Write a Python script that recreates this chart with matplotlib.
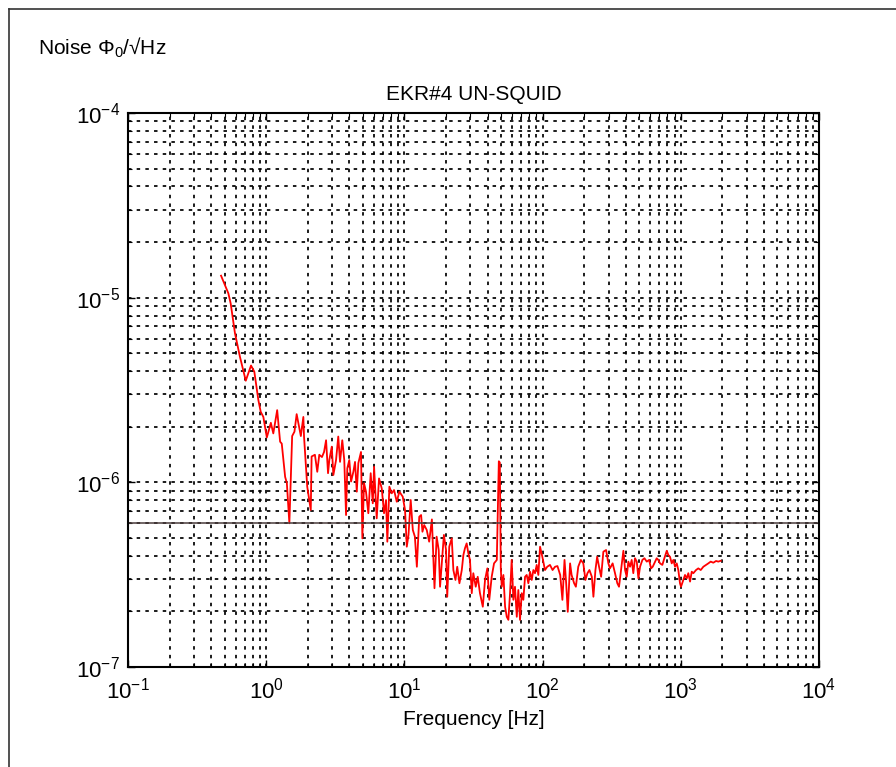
import numpy as np
import matplotlib
matplotlib.use('Agg')
import matplotlib.pyplot as plt
from matplotlib.lines import Line2D

plt.rcParams['font.family'] = ['Liberation Sans', 'DejaVu Sans']
plt.rcParams['mathtext.fontset'] = 'custom'
plt.rcParams['mathtext.rm'] = 'Liberation Sans'
plt.rcParams['mathtext.it'] = 'Liberation Sans:italic'
plt.rcParams['mathtext.bf'] = 'Liberation Sans:bold'
plt.rcParams['axes.unicode_minus'] = False

# noise spectrum (Hz, Phi0/sqrt(Hz))
freq = [0.471, 0.532, 0.553, 0.594, 0.645, 0.711, 0.776, 0.820, 0.877, 0.912,
        0.953, 1.01, 1.08, 1.125, 1.20, 1.26, 1.295, 1.37, 1.41, 1.47,
        1.54, 1.60, 1.66, 1.78, 1.856, 1.877, 1.98, 2.10, 2.13, 2.25,
        2.34, 2.42, 2.53, 2.62, 2.71, 2.80, 2.86, 2.98, 3.06, 3.20,
        3.32, 3.42, 3.55, 3.67, 3.78, 3.86, 3.99, 4.11, 4.27, 4.39,
        4.52, 4.64, 4.85, 4.96, 5.10, 5.27, 5.48, 5.70, 5.90, 6.03,
        6.30, 6.55, 6.85, 7.12, 7.36, 7.52, 7.78, 8.09, 8.41, 8.80,
        9.19, 9.72, 10.1, 10.4, 10.7, 11.1, 11.5, 11.9, 12.3, 12.8,
        13.2, 13.5, 13.9, 14.5, 15.1, 15.8, 16.5, 17.1, 17.7, 18.1,
        18.8, 19.3, 20.0, 20.4, 21.1, 22.0, 22.6, 23.4, 24.1, 25.0,
        26.0, 26.7, 27.4, 28.2, 29.0, 29.8, 30.7, 31.5, 32.8, 33.9,
        35.2, 36.9, 38.3, 39.8, 41.1, 42.8, 44.5, 46.6, 48.2, 49.0,
        49.8, 50.6, 52.0, 53.5, 55.0, 56.5, 58.1, 59.7, 61.4, 63.1,
        65.0, 66.7, 68.6, 70.6, 72.5, 74.6, 76.7, 78.8, 81.1, 83.4,
        85.7, 88.1, 90.6, 93.1, 95.8, 99.5, 104, 108, 113, 118,
        123, 128, 134, 139, 144, 148, 152, 158, 162, 169,
        174, 181, 189, 197, 204, 211, 218, 227, 233, 241,
        248, 256, 265, 275, 288, 299, 307, 321, 334, 347,
        357, 369, 384, 395, 406, 417, 429, 441, 453, 466,
        480, 493, 507, 527, 545, 567, 589, 609, 626, 651,
        669, 687, 707, 735, 760, 791, 812, 835, 859, 883,
        908, 934, 959, 986, 1003, 1042, 1072, 1104, 1133, 1166,
        1199, 1232, 1288, 1338, 1393, 1455, 1522, 1581, 1645, 1718,
        1798, 1867, 1945]

noise = [1.315e-5, 1.055e-5, 9.3e-6, 6.41e-6, 4.79e-6, 3.55e-6, 4.29e-6, 3.97e-6, 2.79e-6, 2.41e-6,
         2.26e-6, 1.75e-6, 2.10e-6, 1.84e-6, 2.46e-6, 1.66e-6, 1.62e-6, 1.07e-6, 9.9e-7, 6.0e-7,
         1.78e-6, 1.88e-6, 2.34e-6, 1.78e-6, 2.26e-6, 1.77e-6, 9.47e-7, 7.08e-7, 1.38e-6, 1.41e-6,
         1.14e-6, 1.41e-6, 1.37e-6, 1.46e-6, 1.69e-6, 1.12e-6, 1.32e-6, 1.56e-6, 1.095e-6, 1.32e-6,
         1.77e-6, 1.29e-6, 1.69e-6, 1.32e-6, 6.65e-7, 1.19e-6, 1.32e-6, 1.01e-6, 1.14e-6, 1.29e-6,
         8.9e-7, 1.27e-6, 1.46e-6, 4.97e-7, 9.9e-7, 8.9e-7, 6.8e-7, 1.12e-6, 7.7e-7, 1.215e-6,
         6.38e-7, 1.05e-6, 9.28e-7, 6.8e-7, 8.02e-7, 4.77e-7, 9.47e-7, 8.72e-7, 9.08e-7, 7.85e-7,
         8.9e-7, 8.36e-7, 7.08e-7, 4.48e-7, 5.19e-7, 8.02e-7, 5.52e-7, 5.08e-7, 3.49e-7, 6.51e-7,
         6.65e-7, 5.40e-7, 5.87e-7, 5.52e-7, 4.77e-7, 6.3e-7, 2.67e-7, 5.08e-7, 4.30e-7, 2.72e-7,
         3.95e-7, 5.19e-7, 4.30e-7, 2.40e-7, 4.48e-7, 4.97e-7, 3.35e-7, 2.96e-7, 3.49e-7, 2.84e-7,
         3.35e-7, 4.04e-7, 4.39e-7, 4.67e-7, 4.13e-7, 3.80e-7, 2.51e-7, 3.22e-7, 2.72e-7, 3.08e-7,
         2.51e-7, 2.12e-7, 2.96e-7, 3.42e-7, 2.31e-7, 3.08e-7, 3.64e-7, 3.80e-7, 1.3e-6, 1.28e-6,
         3.4e-7, 2.72e-7, 3.15e-7, 2.12e-7, 1.87e-7, 1.80e-7, 2.51e-7, 3.80e-7, 2.31e-7, 2.72e-7,
         1.87e-7, 2.61e-7, 1.80e-7, 2.51e-7, 2.31e-7, 3.08e-7, 3.15e-7, 2.84e-7, 3.28e-7, 2.96e-7,
         3.35e-7, 3.22e-7, 3.57e-7, 3.15e-7, 4.48e-7, 3.95e-7, 3.35e-7, 3.49e-7, 3.57e-7, 3.35e-7,
         3.49e-7, 3.52e-7, 3.15e-7, 2.31e-7, 3.80e-7, 2.84e-7, 1.99e-7, 3.64e-7, 3.15e-7, 2.84e-7,
         2.72e-7, 3.49e-7, 3.80e-7, 3.64e-7, 2.96e-7, 3.22e-7, 3.35e-7, 3.08e-7, 2.40e-7, 3.35e-7,
         3.95e-7, 3.49e-7, 3.08e-7, 4.21e-7, 4.30e-7, 3.64e-7, 3.42e-7, 3.64e-7, 3.22e-7, 2.84e-7,
         2.72e-7, 3.35e-7, 4.26e-7, 3.35e-7, 3.08e-7, 3.72e-7, 3.49e-7, 3.80e-7, 3.22e-7, 3.88e-7,
         3.72e-7, 3.02e-7, 3.49e-7, 3.80e-7, 3.88e-7, 3.72e-7, 3.80e-7, 3.42e-7, 3.49e-7, 3.72e-7,
         3.88e-7, 3.80e-7, 3.64e-7, 3.57e-7, 3.88e-7, 4.26e-7, 4.04e-7, 3.95e-7, 3.64e-7, 3.80e-7,
         3.49e-7, 3.64e-7, 3.35e-7, 2.84e-7, 2.72e-7, 2.96e-7, 3.15e-7, 3.02e-7, 3.22e-7, 2.90e-7,
         3.28e-7, 3.22e-7, 3.35e-7, 3.42e-7, 3.35e-7, 3.49e-7, 3.57e-7, 3.64e-7, 3.72e-7, 3.67e-7,
         3.75e-7, 3.72e-7, 3.76e-7]

ref_level = 6.0e-7  # horizontal reference line

title = 'EKR#4 UN-SQUID'
xlabel = 'Frequency [Hz]'
ylabel = r'Noise $\Phi_{0}$/√Hz'

fig = plt.figure(figsize=(8.96, 7.67), dpi=100)
ax = fig.add_axes([0.1429, 0.1304, 0.7712, 0.7223])

ax.loglog(freq, noise, color='red', lw=1.3)
ax.axhline(ref_level, color='#4a3c3c', lw=1.1)

ax.set_xlim(1e-1, 1e4)
ax.set_ylim(1e-7, 1e-4)

ax.grid(True, which='both', color='black', linestyle=(0, (2, 3)), lw=1.25)
ax.tick_params(which='both', direction='in', top=True, right=True, labelsize=16)
ax.tick_params(axis='x', which='major', pad=8)
ax.tick_params(axis='y', which='major', pad=6)
ax.tick_params(which='major', length=5, width=1)
ax.tick_params(which='minor', length=3, width=0.8)
for s in ax.spines.values():
    s.set_linewidth(1.5)

ax.set_title(title, fontsize=15, pad=9)
ax.set_xlabel(xlabel, fontsize=15, labelpad=4)
fig.text(0.042, 0.938, ylabel, fontsize=15, va='center', ha='left')

# figure frame (only top and left edges visible)
fig.add_artist(Line2D([0.01, 1.0], [0.988, 0.988], transform=fig.transFigure, color='#333333', lw=1.2))
fig.add_artist(Line2D([0.01, 0.01], [0.0, 0.988], transform=fig.transFigure, color='#333333', lw=1.2))

fig.savefig('out.png', dpi=100)
